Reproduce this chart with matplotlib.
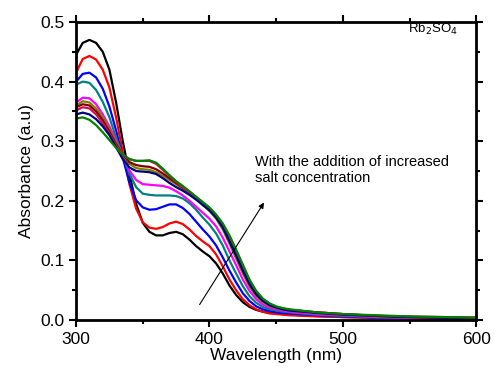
import matplotlib.pyplot as plt
from matplotlib.ticker import MultipleLocator

plt.rcParams['font.family'] = ['Liberation Sans', 'DejaVu Sans']

wavelength = [300, 305, 310, 315, 320, 325, 330, 335, 340, 345, 350, 355, 360, 365, 370,
              375, 380, 385, 390, 395, 400, 405, 410, 415, 420, 425, 430, 435, 440, 445,
              450, 455, 460, 480, 500, 525, 550, 575, 600]

black = [0.445, 0.465, 0.470, 0.465, 0.450, 0.420, 0.365, 0.300, 0.245, 0.195, 0.163, 0.148,
         0.142, 0.142, 0.146, 0.148, 0.144, 0.135, 0.124, 0.115, 0.107, 0.095, 0.078, 0.058,
         0.042, 0.030, 0.022, 0.017, 0.014, 0.012, 0.011, 0.010, 0.009, 0.007, 0.005, 0.004,
         0.003, 0.003, 0.002]
red = [0.415, 0.438, 0.443, 0.437, 0.420, 0.390, 0.340, 0.282, 0.228, 0.187, 0.164, 0.155,
       0.153, 0.156, 0.162, 0.165, 0.161, 0.152, 0.141, 0.132, 0.124, 0.110, 0.090, 0.068,
       0.050, 0.035, 0.025, 0.018, 0.014, 0.011, 0.010, 0.009, 0.008, 0.006, 0.005, 0.004,
       0.003, 0.002, 0.002]
blue = [0.400, 0.413, 0.415, 0.407, 0.388, 0.358, 0.318, 0.272, 0.231, 0.201, 0.189, 0.185,
        0.186, 0.190, 0.194, 0.194, 0.188, 0.178, 0.165, 0.152, 0.140, 0.125, 0.105, 0.083,
        0.063, 0.045, 0.032, 0.023, 0.018, 0.015, 0.013, 0.012, 0.011, 0.008, 0.006, 0.004,
        0.003, 0.003, 0.002]
teal = [0.395, 0.400, 0.398, 0.386, 0.366, 0.340, 0.306, 0.275, 0.246, 0.223, 0.212, 0.210,
        0.209, 0.209, 0.209, 0.208, 0.204, 0.196, 0.185, 0.172, 0.160, 0.145, 0.125, 0.100,
        0.078, 0.057, 0.040, 0.029, 0.022, 0.018, 0.016, 0.014, 0.013, 0.009, 0.007, 0.005,
        0.004, 0.003, 0.003]
magenta = [0.365, 0.373, 0.372, 0.362, 0.345, 0.325, 0.300, 0.275, 0.251, 0.235, 0.228, 0.227,
           0.226, 0.225, 0.222, 0.216, 0.209, 0.200, 0.190, 0.180, 0.170, 0.157, 0.138, 0.115,
           0.092, 0.068, 0.049, 0.035, 0.026, 0.021, 0.018, 0.016, 0.014, 0.010, 0.008, 0.005,
           0.004, 0.003, 0.003]
olive = [0.360, 0.367, 0.365, 0.355, 0.340, 0.320, 0.298, 0.278, 0.262, 0.255, 0.253, 0.252,
         0.248, 0.242, 0.235, 0.228, 0.220, 0.212, 0.203, 0.193, 0.183, 0.170, 0.152, 0.128,
         0.103, 0.078, 0.056, 0.040, 0.030, 0.024, 0.020, 0.018, 0.016, 0.012, 0.009, 0.006,
         0.005, 0.004, 0.003]
maroon = [0.357, 0.362, 0.360, 0.350, 0.335, 0.316, 0.295, 0.278, 0.265, 0.260, 0.258, 0.257,
          0.253, 0.246, 0.238, 0.230, 0.222, 0.214, 0.205, 0.196, 0.187, 0.175, 0.159, 0.138,
          0.114, 0.089, 0.065, 0.047, 0.035, 0.027, 0.022, 0.019, 0.017, 0.013, 0.010, 0.007,
          0.005, 0.004, 0.004]
crimson = [0.352, 0.357, 0.355, 0.345, 0.330, 0.312, 0.293, 0.278, 0.270, 0.267, 0.267, 0.267,
           0.262, 0.252, 0.242, 0.232, 0.223, 0.214, 0.205, 0.196, 0.187, 0.175, 0.160, 0.140,
           0.116, 0.091, 0.066, 0.048, 0.035, 0.027, 0.022, 0.019, 0.017, 0.013, 0.010, 0.007,
           0.006, 0.005, 0.004]
navy = [0.345, 0.348, 0.345, 0.337, 0.325, 0.310, 0.290, 0.270, 0.256, 0.250, 0.249, 0.248,
        0.245, 0.238, 0.230, 0.223, 0.217, 0.210, 0.202, 0.193, 0.184, 0.172, 0.155, 0.132,
        0.108, 0.083, 0.060, 0.043, 0.032, 0.025, 0.021, 0.018, 0.016, 0.012, 0.009, 0.007,
        0.005, 0.004, 0.003]
green = [0.338, 0.340, 0.336, 0.327, 0.315, 0.302, 0.289, 0.277, 0.270, 0.267, 0.267, 0.268,
         0.264, 0.254, 0.243, 0.233, 0.225, 0.216, 0.207, 0.198, 0.189, 0.177, 0.162, 0.142,
         0.118, 0.093, 0.068, 0.049, 0.036, 0.028, 0.023, 0.020, 0.018, 0.013, 0.010, 0.008,
         0.006, 0.005, 0.004]

series = [black, red, blue, teal, magenta, olive, maroon, crimson, navy, green]
colors = ['black', 'red', 'blue', '#008080', 'magenta', '#808000', '#800000', '#d01050',
          '#000080', '#008000']

fig = plt.figure(figsize=(4.94, 3.73), dpi=100)
ax = fig.add_axes([0.154, 0.142, 0.81, 0.799])

for ys, c in zip(series, colors):
    ax.plot(wavelength, ys, color=c, lw=1.6)

ax.set_xlim(300, 600)
ax.set_ylim(0, 0.5)
ax.xaxis.set_major_locator(MultipleLocator(100))
ax.xaxis.set_minor_locator(MultipleLocator(50))
ax.yaxis.set_major_locator(MultipleLocator(0.1))
ax.yaxis.set_minor_locator(MultipleLocator(0.05))
ax.yaxis.set_major_formatter(plt.FormatStrFormatter('%.1f'))
ax.tick_params(which='both', direction='out', top=True, right=True, width=1.5, labelsize=12.5)
ax.tick_params(which='major', length=5)
ax.tick_params(which='minor', length=3)
ax.tick_params(labeltop=False, labelright=False)
for sp in ax.spines.values():
    sp.set_linewidth(2)

ax.set_xlabel('Wavelength (nm)', fontsize=12.5, labelpad=1)
ax.set_ylabel('Absorbance (a.u)', fontsize=12.5, labelpad=4)

ax.text(549, 0.487, 'Rb$_2$SO$_4$', fontsize=9.5, va='center', ha='left')
ax.text(434, 0.252, 'With the addition of increased\nsalt concentration', fontsize=10.5,
        va='center', ha='left', linespacing=1.15)
ax.annotate('', xy=(442, 0.201), xytext=(391.5, 0.022),
            arrowprops=dict(arrowstyle='-|>', color='black', lw=0.8, mutation_scale=8))

fig.savefig('out.png', dpi=100)
